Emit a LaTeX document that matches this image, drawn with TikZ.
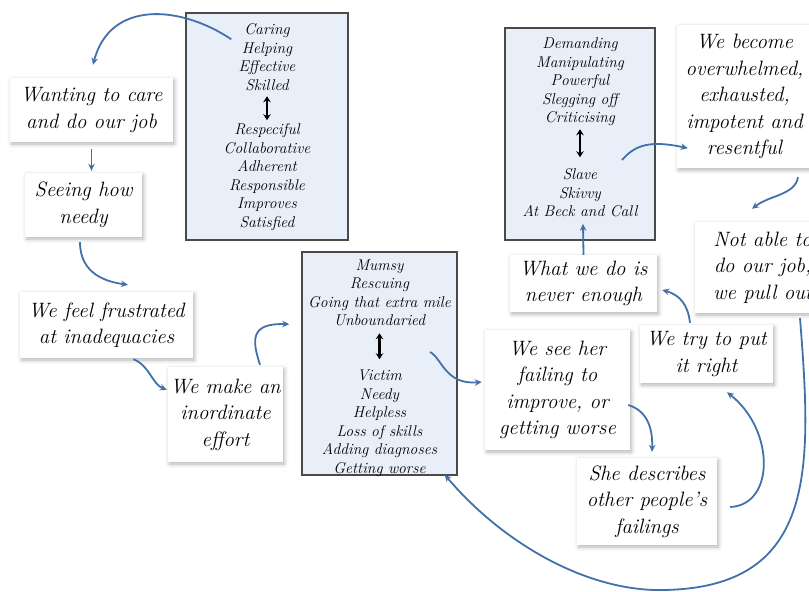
\documentclass[tikz,border=0pt]{standalone}
\usetikzlibrary{arrows.meta,shadows.blur,calc}
\definecolor{arrowblue}{HTML}{4170AA}
\definecolor{boxfill}{HTML}{E9EFF9}
\definecolor{boxline}{HTML}{4A4A4A}
\tikzset{
 card/.style={fill=white, blur shadow={shadow xshift=1.5pt, shadow yshift=-2pt, shadow blur radius=4pt, shadow opacity=30}, inner sep=0pt, align=center, font=\fontsize{20.8}{26.5}\selectfont\itshape},
 listbox/.style={draw=boxline, line width=1.5pt, fill=boxfill, inner sep=0pt},
 listtext/.style={align=center, inner sep=0pt, font=\fontsize{15.6}{18.5}\selectfont\itshape},
 flow/.style={draw=arrowblue, line width=1.8pt, -{Stealth[length=7pt,width=6.5pt]}},
 twohead/.style={black, line width=2.2pt, {Stealth[length=6pt,width=7.5pt]}-{Stealth[length=6pt,width=7.5pt]}},
}
\begin{document}
\begin{tikzpicture}[x=1pt,y=-1pt]
\useasboundingbox (0,0) rectangle (809,592);
\clip (0,0) rectangle (809,592);
% cards
\node[card, minimum width=163pt, minimum height=64pt] (want) at (91.5,110) {Wanting to care\\and do our job};
\node[card, minimum width=117pt, minimum height=64pt] (seeing) at (83.5,205) {Seeing how\\needy};
\node[card, minimum width=173pt, minimum height=66pt] (frust) at (106.5,325) {We feel frustrated\\at inadequacies};
\node[card, minimum width=115pt, minimum height=95pt] (make) at (225.5,414.5) {We make an\\inordinate\\effort};
\node[card, minimum width=145pt, minimum height=120pt] (seeher) at (557.5,390) {We see her\\failing to\\improve, or\\getting worse};
\node[card, minimum width=147pt, minimum height=57pt] (what) at (583.5,283.5) {What we do is\\never enough};
\node[card, minimum width=133pt, minimum height=58pt] (try) at (706.5,354) {We try to put\\it right};
\node[card, minimum width=140pt, minimum height=87pt] (she) at (647,501.5) {She describes\\other people's\\failings};
\node[card, minimum width=135pt, minimum height=143pt] (become) at (744.5,96.5) {We become\\overwhelmed,\\exhausted,\\impotent and\\resentful};
\node[card, minimum width=135pt, minimum height=91pt] (notable) at (762.5,267.5) {Not able to\\do our job,\\we pull out};
% list boxes
\node[listbox, minimum width=162pt, minimum height=227pt] (care) at (267,126.5) {};
\node[listtext] (careTop) at (267,57) {Caring\\Helping\\Effective\\Skilled};
\node[listtext] (careBot) at (267,177) {Respeciful\\Collaborative\\Adherent\\Responsible\\Improves\\Satisfied};
\draw[twohead] ($(care.north)+(0,84)$) -- ($(care.north)+(0,108)$);
\node[listbox, minimum width=155pt, minimum height=223pt] (mid) at (379.5,363.5) {};
\node[listtext] (midTop) at (379.5,293) {Mumsy\\Rescuing\\Going that extra mile\\Unboundaried};
\node[listtext] (midBot) at (379.5,423.5) {Victim\\Needy\\Helpless\\Loss of skills\\Adding diagnoses\\Getting worse};
\draw[twohead] ($(mid.north)+(0,82)$) -- ($(mid.north)+(0,108)$);
\node[listbox, minimum width=150pt, minimum height=212pt] (dom) at (580,134) {};
\node[listtext] (domTop) at (580,82) {Demanding\\Manipulating\\Powerful\\Slegging off\\Criticising};
\node[listtext] (domBot) at (580,193) {Slave\\Skivvy\\At Beck and Call};
\draw[twohead] ($(dom.north)+(0,102)$) -- ($(dom.north)+(0,130)$);
% connectors
\draw[flow] ($(care.north west)+(46,27)$) .. controls (180,5) and (110,0) .. ($(want.north)+(1.5,-13)$);
\draw[flow, shorten <=7pt, shorten >=2pt] (want.south) -- (want.south |- seeing.north);
\draw[flow] ($(seeing.south)+(-3.5,5)$) .. controls (80,275) and (108,282) .. ($(frust.north)+(21.5,-7)$);
\draw[flow] ($(frust.south)+(27,1)$) .. controls (150,366) and (152,384) .. ($(make.north west)+(-1,23)$);
\draw[flow] ($(make.north)+(34.5,-2)$) .. controls (252,340) and (250,323) .. ($(mid.north west)+(-12,73)$);
\draw[flow] ($(mid.center)+(50.5,-11.5)$) .. controls (442,358) and (445,385) .. ($(seeher.west)+(-3,-8)$);
\draw[flow] ($(seeher.east)+(-2,15)$) .. controls (645,410) and (653,425) .. ($(she.north)+(5,-6)$);
\draw[flow] ($(she.east)+(13,5.5)$) .. controls (775,505) and (775,430) .. ($(try.south)+(20.5,9)$);
\draw[flow] ($(try.north)+(-16.5,-2)$) .. controls (688,305) and (680,295) .. ($(what.east)+(5,6.5)$);
\draw[flow] (what.north) -- ($(dom.south)+(3,-17)$);
\draw[flow] ($(dom.center)+(42,26)$) .. controls (635,145) and (650,140) .. ($(become.south west)+(11,-20)$);
\draw[flow] ($(become.south)+(53.5,9)$) .. controls (795,195) and (770,195) .. ($(notable.north)+(-10.5,-13)$);
\draw[flow] ($(notable.south)+(37.5,5)$) .. controls (812,470) and (818,592) .. (655,590)
  .. controls (580,588) and (500,540) .. ($(mid.south east)+(-13,-1)$);
\end{tikzpicture}
\end{document}
